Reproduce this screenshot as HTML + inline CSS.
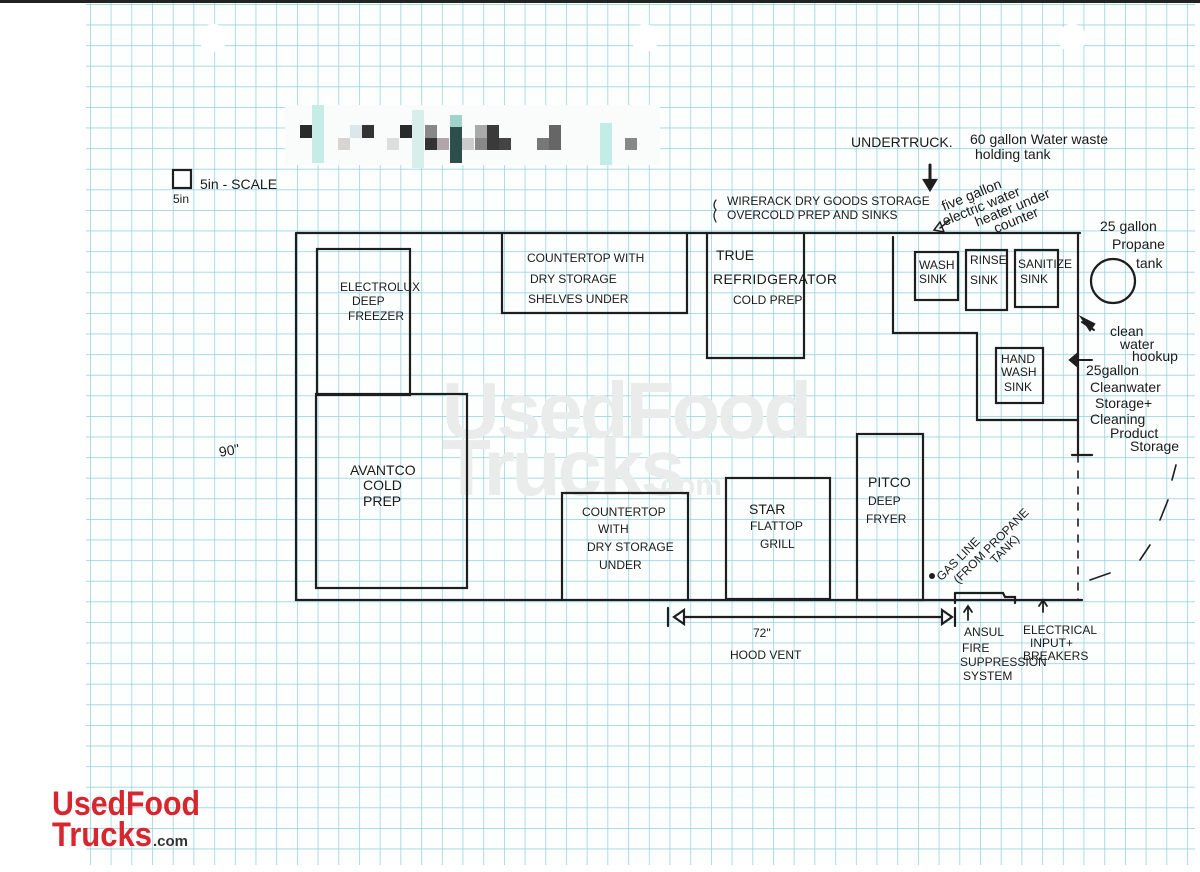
<!DOCTYPE html>
<html><head><meta charset="utf-8"><style>
html,body{margin:0;padding:0;background:#fff;}
svg{display:block;}
.h{font-family:"Liberation Sans",sans-serif;fill:#1a1a1a;font-size:12px;}
.c{font-family:"Liberation Sans",sans-serif;fill:#1a1a1a;font-size:14px;}
</style></head><body>
<svg width="1200" height="872" viewBox="0 0 1200 872" xmlns="http://www.w3.org/2000/svg">
<defs>
<pattern id="g" x="90" y="4" width="20.7" height="20.6" patternUnits="userSpaceOnUse">
<path d="M0 0V20.6M0 0H20.7" stroke="#8ecfdb" stroke-width="1.4" fill="none"/>
</pattern>
</defs>
<rect width="1200" height="872" fill="#fff"/>
<rect x="0" y="0" width="1200" height="3" fill="#222"/>
<rect x="86" y="3" width="1109" height="862" fill="#fdfefe"/>
<rect x="86" y="3" width="1109" height="862" fill="url(#g)"/>
<circle cx="213" cy="38" r="14" fill="#fff"/>
<circle cx="645" cy="38" r="14" fill="#fff"/>
<circle cx="1072" cy="38" r="14" fill="#fff"/>
<rect x="285" y="105" width="375" height="60" fill="#fafcfc"/>
<g>
<rect x="312" y="105" width="12" height="58" fill="#c6ece6"/>
<rect x="300" y="125" width="12" height="13" fill="#2a2a2a"/>
<rect x="338" y="138" width="12" height="12" fill="#d8d4d4"/>
<rect x="350" y="125" width="12" height="13" fill="#dde6ea"/>
<rect x="362" y="125" width="12" height="13" fill="#333"/>
<rect x="387" y="138" width="12" height="12" fill="#ddd"/>
<rect x="400" y="125" width="12" height="13" fill="#2a2a2a"/>
<rect x="412" y="110" width="12" height="58" fill="#d8eeea"/>
<rect x="425" y="125" width="12" height="13" fill="#888"/>
<rect x="425" y="138" width="12" height="12" fill="#333"/>
<rect x="437" y="138" width="12" height="12" fill="#b0a8a8"/>
<rect x="450" y="115" width="12" height="12" fill="#9fd3cc"/>
<rect x="450" y="127" width="12" height="36" fill="#2e4e4c"/>
<rect x="462" y="138" width="12" height="12" fill="#ccc"/>
<rect x="475" y="125" width="12" height="13" fill="#aaa"/>
<rect x="475" y="138" width="12" height="12" fill="#888"/>
<rect x="487" y="125" width="12" height="25" fill="#3a3a3a"/>
<rect x="499" y="138" width="12" height="12" fill="#444"/>
<rect x="537" y="138" width="12" height="12" fill="#777"/>
<rect x="549" y="125" width="12" height="25" fill="#666"/>
<rect x="600" y="123" width="12" height="42" fill="#c2ece6"/>
<rect x="625" y="138" width="12" height="12" fill="#888"/>
</g>
<text x="442" y="438" font-family="Liberation Sans,sans-serif" font-weight="bold" font-size="80" fill="#eaecec" letter-spacing="-3">UsedFood</text>
<text x="442" y="495" font-family="Liberation Sans,sans-serif" font-weight="bold" font-size="80" fill="#eaecec" letter-spacing="-3">Trucks</text>
<text x="652" y="495" font-family="Liberation Sans,sans-serif" font-weight="bold" font-size="30" fill="#eaecec">.com</text>

<g stroke="#1e1e1e" stroke-width="2.2" fill="none" stroke-linecap="round">
<path d="M296 233H1080M296 233V600H1082M1078 233V455"/>
<path d="M1072 455H1092"/>
<path d="M1078 455V600" stroke-dasharray="7 9" stroke-width="1.6"/>
<path d="M1090 580 L1110 573 M1140 560 L1150 545 M1160 520 L1168 500 M1172 480 L1176 465" stroke-width="1.6"/>
<rect x="317" y="249" width="93" height="146"/>
<rect x="316" y="394" width="151" height="194"/>
<path d="M502 233V313H687V233"/>
<path d="M707 233V358H804V233"/>
<path d="M893 237V333H977V420H1078"/>
<rect x="915" y="252" width="43" height="48"/>
<rect x="966" y="250" width="41" height="60"/>
<rect x="1015" y="250" width="43" height="57"/>
<rect x="996" y="348" width="47" height="55"/>
<circle cx="1113" cy="281" r="22"/>
<path d="M562 600V493H688V600"/>
<rect x="726" y="478" width="104" height="121"/>
<rect x="857" y="434" width="66" height="166"/>
<path d="M668 608V626M955 608V626M684 617H942"/>
<path d="M684 610L674 617L684 624Z"/>
<path d="M942 610L952 617L942 624Z"/>
<path d="M955 593H1003L1005 597H1015V603"/>
<path d="M955 593V603"/>
<path d="M968 620V606M964 612L968 606L972 612" stroke-width="1.8"/>
<path d="M1043 612V600M1039 606L1043 600L1047 606" stroke-width="1.8"/>
<path d="M930 165V185" stroke-width="3"/>
<path d="M924 180L930 190L936 180Z" fill="#1e1e1e"/>
<path d="M1094 330L1082 322M1076 360H1092" stroke-width="2"/>
<path d="M1082 318L1094 324L1090 330Z M1076 355L1070 360L1076 365Z" fill="#1e1e1e"/>
<path d="M940 228L950 220M934 230L940 222L944 232Z" stroke-width="1.5"/>
<rect x="173" y="170" width="18" height="18"/>
<path d="M716 200Q712 205 716 210Q712 215 716 222" stroke-width="1.2"/>
</g>
<circle cx="932" cy="576" r="3" fill="#1e1e1e"/>

<text class="c" x="200" y="189" font-size="15">5in - SCALE</text>
<text class="h" x="173" y="203" font-size="12">5in</text>
<text class="c" x="218" y="455" font-size="20" transform="rotate(-10 230 445)">90"</text>
<text class="h" x="340" y="291" font-size="11">ELECTROLUX</text>
<text class="h" x="352" y="305">DEEP</text>
<text class="h" x="348" y="320">FREEZER</text>
<text class="c" x="350" y="475">AVANTCO</text>
<text class="c" x="363" y="490">COLD</text>
<text class="c" x="363" y="506">PREP</text>
<text class="h" x="527" y="262">COUNTERTOP WITH</text>
<text class="h" x="530" y="283">DRY STORAGE</text>
<text class="h" x="528" y="303">SHELVES UNDER</text>
<text class="c" x="716" y="260">TRUE</text>
<text class="c" x="713" y="284" textLength="124">REFRIDGERATOR</text>
<text class="h" x="733" y="304">COLD PREP</text>
<text class="h" x="582" y="516">COUNTERTOP</text>
<text class="h" x="598" y="533">WITH</text>
<text class="h" x="587" y="551">DRY STORAGE</text>
<text class="h" x="599" y="569">UNDER</text>
<text class="c" x="749" y="514">STAR</text>
<text class="h" x="750" y="530">FLATTOP</text>
<text class="h" x="760" y="548">GRILL</text>
<text class="c" x="868" y="487">PITCO</text>
<text class="h" x="868" y="505">DEEP</text>
<text class="h" x="866" y="523">FRYER</text>
<text class="h" x="919" y="269" font-size="10">WASH</text>
<text class="h" x="919" y="283" font-size="10">SINK</text>
<text class="h" x="970" y="264" font-size="11">RINSE</text>
<text class="h" x="970" y="284" font-size="11">SINK</text>
<text class="h" x="1018" y="268" font-size="10">SANITIZE</text>
<text class="h" x="1020" y="283" font-size="10">SINK</text>
<text class="h" x="1001" y="363" font-size="10">HAND</text>
<text class="h" x="1001" y="376" font-size="10">WASH</text>
<text class="h" x="1004" y="391" font-size="10">SINK</text>
<text class="c" x="1100" y="231" font-size="17">25 gallon</text>
<text class="c" x="1112" y="249" font-size="15">Propane</text>
<text class="c" x="1136" y="268" font-size="15">tank</text>
<text class="c" x="1110" y="336" font-size="14">clean</text>
<text class="c" x="1120" y="349" font-size="14">water</text>
<text class="c" x="1132" y="361" font-size="14">hookup</text>
<text class="c" x="1086" y="375" font-size="15">25gallon</text>
<text class="c" x="1090" y="392" font-size="15">Cleanwater</text>
<text class="c" x="1095" y="408" font-size="14">Storage+</text>
<text class="c" x="1090" y="424" font-size="14">Cleaning</text>
<text class="c" x="1110" y="438" font-size="14">Product</text>
<text class="c" x="1130" y="451" font-size="14">Storage</text>
<text class="c" x="851" y="147" font-size="14">UNDERTRUCK.</text>
<text class="c" x="970" y="144" font-size="15">60 gallon Water waste</text>
<text class="c" x="975" y="159" font-size="14">holding tank</text>
<text class="h" x="727" y="205" font-size="11">WIRERACK DRY GOODS STORAGE</text>
<text class="h" x="727" y="219" font-size="11">OVERCOLD PREP AND SINKS</text>
<g transform="rotate(-22 955 225)">
<text class="c" x="950" y="208" font-size="14">five gallon</text>
<text class="c" x="945" y="222" font-size="14">electric water</text>
<text class="c" x="975" y="235" font-size="14">heater under</text>
<text class="c" x="990" y="248" font-size="14">counter</text>
</g>
<text class="h" x="753" y="637" font-size="15">72"</text>
<text class="h" x="730" y="659" font-size="13">HOOD VENT</text>
<g transform="rotate(-45 940 580)">
<text class="h" x="940" y="582" font-size="11">GAS LINE</text>
<text class="h" x="950" y="596" font-size="11">(FROM PROPANE</text>
<text class="h" x="990" y="608" font-size="11">TANK)</text>
</g>
<text class="h" x="964" y="636" font-size="11">ANSUL</text>
<text class="h" x="962" y="652" font-size="11">FIRE</text>
<text class="h" x="960" y="666" font-size="10">SUPPRESSION</text>
<text class="h" x="963" y="680" font-size="11">SYSTEM</text>
<text class="h" x="1023" y="634" font-size="11">ELECTRICAL</text>
<text class="h" x="1030" y="647" font-size="11">INPUT+</text>
<text class="h" x="1023" y="660" font-size="11">BREAKERS</text>

<rect x="40" y="780" width="46" height="80" fill="#fff"/>
<text x="52" y="815" font-family="Liberation Sans,sans-serif" font-weight="bold" font-size="34" fill="#d8262e" textLength="148" lengthAdjust="spacingAndGlyphs">UsedFood</text>
<text x="52" y="846" font-family="Liberation Sans,sans-serif" font-weight="bold" font-size="34" fill="#d8262e" textLength="100" lengthAdjust="spacingAndGlyphs">Trucks</text>
<text x="153" y="846" font-family="Liberation Sans,sans-serif" font-weight="bold" font-size="15" fill="#333">.com</text>
</svg>
</body></html>
